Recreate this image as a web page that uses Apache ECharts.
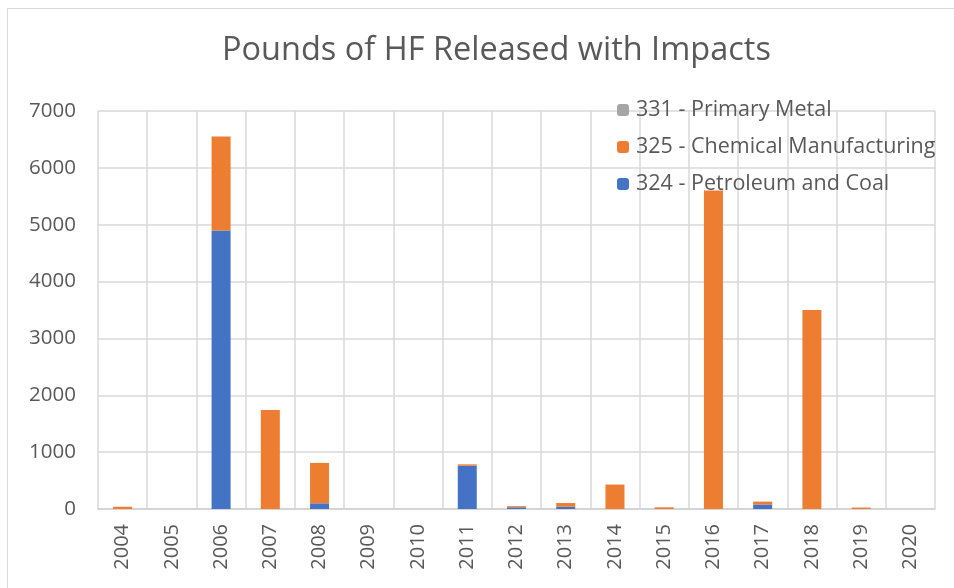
<!DOCTYPE html>
<html>
<head>
    <meta charset="UTF-8">
    <title>HF</title>
    <script src="https://cdn.jsdelivr.net/npm/echarts@6/dist/echarts.min.js"></script>
    <style>
        *{margin:0;padding:0}
        html,body{width:100%;height:100%;background:#fff;overflow:hidden}
        #frame{
            position:absolute;left:7px;top:8px;width:960px;height:600px;
            border:1px solid #d9d9d9;
        }
        #main{position:absolute;left:0;top:0;width:954px;height:588px}
    </style>
</head>
<body>
    <div id="frame"></div>
    <div id="main"></div>

    <script type="text/javascript">
        var years = ['2004','2005','2006','2007','2008','2009','2010','2011','2012',
                     '2013','2014','2015','2016','2017','2018','2019','2020'];
        // 324 - Petroleum and Coal
        var petroleum = [0, 0, 4900, 0, 100, 0, 0, 760, 30, 40, 0, 0, 0, 80, 0, 0, 0];
        // 325 - Chemical Manufacturing
        var chemical = [40, 0, 1650, 1740, 710, 0, 0, 25, 20, 65, 430, 30, 5600, 50, 3500, 25, 0];
        // 331 - Primary Metal
        var metal = [0, 0, 0, 0, 0, 0, 0, 0, 0, 0, 0, 0, 0, 0, 0, 0, 0];

        var myChart = echarts.init(document.getElementById('main'));
        var txt = '#595959';
        var fnt = '"Open Sans", "DejaVu Sans", sans-serif';

        option = {
            animation: false,
            title: {
                text: 'Pounds of HF Released with Impacts',
                left: 217,
                top: 29,
                textStyle: {color: txt, fontSize: 32.5, fontWeight: 'normal', fontFamily: fnt}
            },
            legend: {
                orient: 'vertical',
                left: 612,
                top: 94,
                itemWidth: 12,
                itemHeight: 12,
                itemGap: 15,
                data: ['331 - Primary Metal', '325 - Chemical Manufacturing', '324 - Petroleum and Coal'],
                textStyle: {color: txt, fontSize: 21.5, fontFamily: fnt, padding: [0, 0, 0, 2]}
            },
            grid: {left: 98, right: 19, top: 111, bottom: 79, containLabel: false},
            xAxis: {
                type: 'category',
                data: years,
                axisTick: {show: false},
                axisLine: {lineStyle: {color: '#d0d0d0', width: 1.5}},
                axisLabel: {rotate: 90, color: txt, fontSize: 20, fontFamily: fnt, margin: 15},
                splitLine: {show: true, interval: 0, lineStyle: {color: '#d9d9d9', width: 1.5}}
            },
            yAxis: {
                type: 'value',
                min: 0,
                max: 7000,
                interval: 1000,
                axisLabel: {color: txt, fontSize: 20.5, fontFamily: fnt, margin: 22,
                    formatter: function (v) { return String(v); }},
                axisLine: {show: false},
                splitLine: {lineStyle: {color: '#d9d9d9', width: 1.5}}
            },
            series: [
                {
                    name: '324 - Petroleum and Coal',
                    type: 'bar', stack: 'all', barWidth: 19,
                    itemStyle: {color: '#4472c4'},
                    data: petroleum
                },
                {
                    name: '325 - Chemical Manufacturing',
                    type: 'bar', stack: 'all', barWidth: 19,
                    itemStyle: {color: '#ed7d31'},
                    data: chemical
                },
                {
                    name: '331 - Primary Metal',
                    type: 'bar', stack: 'all', barWidth: 19,
                    itemStyle: {color: '#a5a5a5'},
                    data: metal
                }
            ]
        };
        myChart.setOption(option);
    </script>
</body>
</html>
